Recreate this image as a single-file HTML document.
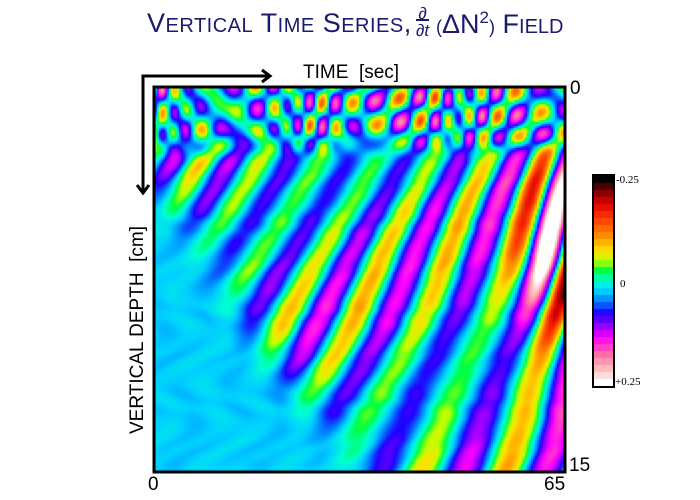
<!DOCTYPE html>
<html><head><meta charset="utf-8"><style>
body{margin:0;background:#fff;width:700px;height:500px;position:relative;overflow:hidden;font-family:"Liberation Sans",sans-serif}
.a{position:absolute;white-space:nowrap}
</style></head><body>
<div class="a" style="left:147px;top:8px;color:#1a1a6e;font-size:27px;letter-spacing:0.5px">V<span style="font-size:20px">ERTICAL</span> T<span style="font-size:20px">IME</span> S<span style="font-size:20px">ERIES</span>,</div>
<div class="a" style="left:416px;top:5px;color:#1a1a6e;font-size:17px;line-height:17px;text-align:center;font-style:italic">∂<br><span style="border-top:2px solid #1a1a6e">∂t</span></div>
<div class="a" style="left:436px;top:8px;color:#1a1a6e;font-size:27px"><span style="font-size:18px">(</span>ΔN<sup style="font-size:17px">2</sup><span style="font-size:18px">)</span> F<span style="font-size:20px">IELD</span></div>
<canvas id="c" width="409" height="383" style="position:absolute;left:155px;top:88px"></canvas>
<canvas id="cb" width="19" height="210" style="position:absolute;left:594px;top:176px"></canvas>
<svg class="a" style="left:0;top:0" width="700" height="500">
<polyline points="268,76 143,76 143,192" fill="none" stroke="#000" stroke-width="3"/>
<polyline points="262,70 270,76 262,82" fill="none" stroke="#000" stroke-width="3"/>
<polyline points="137,185 143,193 149,185" fill="none" stroke="#000" stroke-width="3"/>
<rect x="154" y="87" width="411" height="385" fill="none" stroke="#000" stroke-width="3"/>
<rect x="593" y="175" width="21" height="212" fill="none" stroke="#000" stroke-width="2"/>
</svg>
<div class="a" style="left:303px;top:62px;font-size:19px">TIME&nbsp; [sec]</div>
<div class="a" style="left:570px;top:78px;font-size:19px">0</div>
<div class="a" style="left:569px;top:455px;font-size:19px">15</div>
<div class="a" style="left:148px;top:474px;font-size:19px">0</div>
<div class="a" style="left:544px;top:474px;font-size:19px">65</div>
<div class="a" style="left:138px;top:330px;font-size:19px;transform:translate(-50%,-50%) rotate(-90deg)">VERTICAL DEPTH&nbsp; [cm]</div>
<div class="a" style="left:616px;top:174px;font-size:11px;font-family:'Liberation Serif',serif">-0.25</div>
<div class="a" style="left:620px;top:278px;font-size:11px;font-family:'Liberation Serif',serif">0</div>
<div class="a" style="left:615px;top:376px;font-size:11px;font-family:'Liberation Serif',serif">+0.25</div>
<script>
(function(){
var stops=[[0,[0,0,0]],[0.06,[128,0,0]],[0.12,[224,0,0]],[0.2,[255,64,0]],[0.28,[255,144,0]],[0.35,[255,224,0]],[0.4,[190,255,0]],[0.45,[0,255,64]],[0.5,[0,255,210]],[0.55,[0,208,255]],[0.6,[0,128,255]],[0.66,[32,0,255]],[0.72,[144,0,255]],[0.78,[255,0,255]],[0.85,[255,96,170]],[0.92,[255,176,176]],[1,[255,255,255]]];
function cm(t){t=Math.max(0,Math.min(1,t));for(var i=1;i<stops.length;i++){if(t<=stops[i][0]){var a=stops[i-1],b=stops[i],f=(t-a[0])/(b[0]-a[0]);return [a[1][0]+(b[1][0]-a[1][0])*f,a[1][1]+(b[1][1]-a[1][1])*f,a[1][2]+(b[1][2]-a[1][2])*f];}}return [255,255,255];}
function ss(a,b,x){x=Math.max(0,Math.min(1,(x-a)/(b-a)));return x*x*(3-2*x);}
var cv=document.getElementById('c'),g=cv.getContext('2d'),W=409,H=383,S=2;
for(var y=0;y<H;y+=S)for(var x=0;x<W;x+=S){
var u=x/W,v=y/H;
var s=0.6-0.35*u;
var ph=2*Math.PI*(u+s*v)/0.13+0.6*Math.sin(v*4)+0.3*Math.sin(v*13+u*5);
var w=u-0.65*(v-0.3);
var A=0.115*ss(-0.08,0.15,w)*(0.8+0.3*Math.sin(v*9+u*6));
A+=0.22*Math.exp(-Math.pow((u-0.98)/0.09,2)-Math.pow((v-0.45)/0.25,2));
var val=A*Math.sin(ph);
var tp=1-ss(0.1,0.2,v);
var blob=0.12*Math.sin(2*Math.PI*u/0.08+2*Math.sin(u*17))*Math.cos(2*Math.PI*v/0.12+u*3)+0.05*Math.sin(u*70+v*40);
val=val*(1-tp)+blob*tp;
val+=0.025+0.008*Math.sin(x*0.11+Math.sin(y*0.07)*3)*Math.cos(y*0.09+x*0.03);
var col=cm(0.5+val/0.5);
g.fillStyle='rgb('+Math.round(col[0])+','+Math.round(col[1])+','+Math.round(col[2])+')';
g.fillRect(x,y,S,S);}
var cb=document.getElementById('cb').getContext('2d');
for(var i=0;i<30;i++){var cc=cm(i/29);cb.fillStyle='rgb('+cc.map(Math.round).join(',')+')';cb.fillRect(0,i*7,19,7);}
})();
</script>
</body></html>
